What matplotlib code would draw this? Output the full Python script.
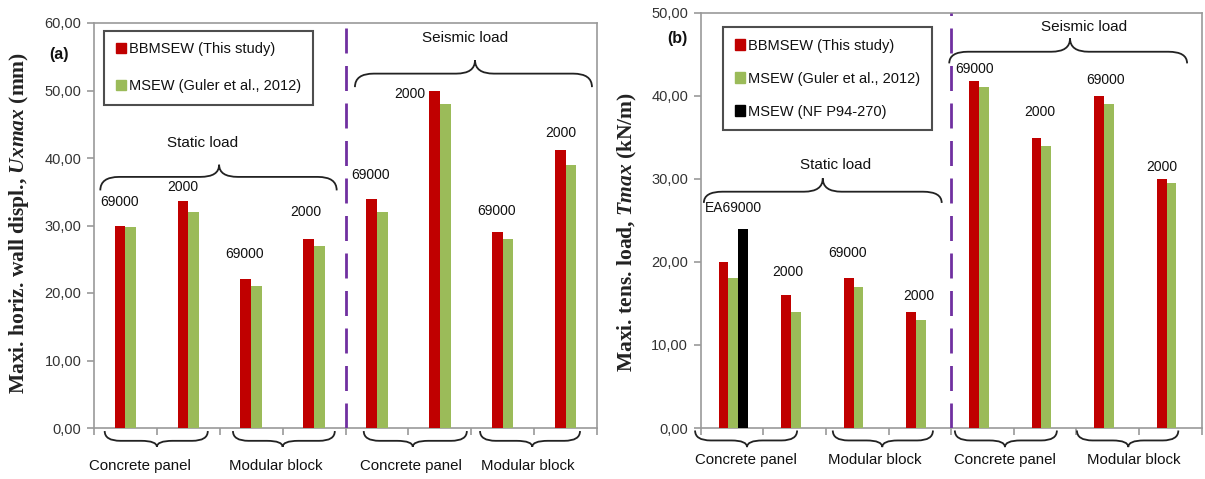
import matplotlib
matplotlib.use("Agg")
import matplotlib.pyplot as plt
from matplotlib.path import Path
from matplotlib.patches import PathPatch, Patch

plt.rcParams['font.family'] = ['Liberation Sans', 'DejaVu Sans']
plt.rcParams['mathtext.fontset'] = 'custom'
plt.rcParams['mathtext.rm'] = 'Liberation Serif:bold'
plt.rcParams['mathtext.it'] = 'Liberation Serif:italic:bold'

# --- data -----------------------------------------------------------------
categories = ["CP static 69000", "CP static 2000", "MB static 69000", "MB static 2000",
              "CP seismic 69000", "CP seismic 2000", "MB seismic 69000", "MB seismic 2000"]

ux_bbmsew = [30.0, 33.7, 22.1, 28.0, 33.9, 50.0, 29.1, 41.2]
ux_msew = [29.8, 32.0, 21.1, 26.9, 32.0, 48.0, 28.0, 39.0]

t_bbmsew = [20.0, 16.0, 18.0, 14.0, 41.8, 34.9, 40.0, 30.0]
t_msew = [18.0, 14.0, 17.0, 13.0, 41.0, 34.0, 39.0, 29.5]
t_nf = [24.0, 0, 0, 0, 0, 0, 0, 0]

stiff_a = ["69000", "2000", "69000", "2000", "69000", "2000", "69000", "2000"]
stiff_b = ["EA69000", "2000", "69000", "2000", "69000", "2000", "69000", "2000"]
groups = ["Concrete panel", "Modular block", "Concrete panel", "Modular block"]
loads = ["Static load", "Seismic load"]
legend_labels = ["BBMSEW (This study)", "MSEW (Guler et al., 2012)", "MSEW (NF P94-270)"]

RED = "#C00000"
GREEN = "#9BBB59"
BLACK = "#000000"
PURPLE = "#7030A0"
AXIS = "#9A9A9A"
TXT = "#111111"

# label placement (x offset from category, y in data units)
lab_a = [(-0.10, 33.5), (-0.08, 35.7), (-0.10, 25.8), (-0.13, 32.0),
         (-0.10, 37.5), (-0.47, 49.5), (-0.10, 32.2), (-0.07, 43.7)]
lab_b = [(0.03, 26.5), (-0.11, 18.8), (-0.15, 21.1), (-0.02, 15.9),
         (-0.13, 43.2), (-0.08, 38.1), (-0.03, 41.9), (-0.13, 31.4)]


def brace(ax, x0, x1, xm, y_end, y_line, y_tip, rx=0.3, rt=0.3):
    verts = [(x0, y_end), (x0, y_line), (x0 + rx, y_line),
             (xm - rt, y_line),
             (xm, y_line), (xm, y_tip),
             (xm, y_line), (xm + rt, y_line),
             (x1 - rx, y_line),
             (x1, y_line), (x1, y_end)]
    codes = [Path.MOVETO, Path.CURVE3, Path.CURVE3, Path.LINETO,
             Path.CURVE3, Path.CURVE3, Path.CURVE3, Path.CURVE3,
             Path.LINETO, Path.CURVE3, Path.CURVE3]
    ax.add_patch(PathPatch(Path(verts, codes), fill=False, edgecolor="#222222",
                           lw=1.3, clip_on=False, zorder=5))


def style_axes(ax, ymax):
    x = range(len(categories))
    ax.set_xlim(-0.5, 7.5)
    ax.set_ylim(0, ymax)
    ax.set_xticks([i - 0.5 for i in range(9)])
    ax.set_xticklabels([])
    ax.set_yticks(range(0, ymax + 1, 10))
    ax.set_yticklabels([f"{v:.2f}".replace(".", ",") for v in range(0, ymax + 1, 10)])
    for s in ax.spines.values():
        s.set_color(AXIS)
        s.set_linewidth(1.2)
    ax.tick_params(axis="both", colors=AXIS, length=5, width=1.2)
    ax.tick_params(axis="y", labelcolor="#333333", labelsize=10.5, pad=4)
    ax.axvline(3.5, color=PURPLE, lw=2, dashes=(9, 4.5), zorder=4)
    return x


def make_legend(ax, handles, labels, x, y, spacing):
    leg = ax.legend(handles, labels, loc="upper left",
                    bbox_to_anchor=(x / 1205, 1 - y / 479),
                    bbox_transform=fig.transFigure, fontsize=10.5, frameon=True,
                    fancybox=False, handlelength=0.7, handleheight=0.7,
                    handletextpad=0.2, labelspacing=spacing, borderpad=0.8,
                    borderaxespad=0)
    leg.get_frame().set_edgecolor("#222222")
    leg.get_frame().set_linewidth(1.5)
    for t in leg.get_texts():
        t.set_color(TXT)


fig = plt.figure(figsize=(12.05, 4.79), dpi=100)

# ---------------- (a) wall displacement ----------------
ax = fig.add_axes([94 / 1205, 1 - 428 / 479, 503 / 1205, 405 / 479])
x = style_axes(ax, 60)
w = 0.17
ax.bar([i - w / 2 for i in x], ux_bbmsew, w, color=RED, zorder=3)
ax.bar([i + w / 2 for i in x], ux_msew, w, color=GREEN, zorder=3)
for i, (dx, yy) in enumerate(lab_a):
    ax.text(i + dx, yy, stiff_a[i], ha="center", va="center", fontsize=10, color=TXT)

brace(ax, -0.40, 3.36, 1.49, 35.2, 37.2, 39.0)
ax.text(1.23, 42.2, loads[0], ha="center", va="center", fontsize=11, color=TXT)
brace(ax, 3.65, 7.42, 5.56, 50.5, 52.5, 54.5)
ax.text(5.40, 57.8, loads[1], ha="center", va="center", fontsize=11, color=TXT)

for (x0, x1, xm), tx, g in zip([(-0.33, 1.31, 0.50), (1.71, 3.33, 2.50),
                                (3.79, 5.43, 4.57), (5.64, 7.23, 6.47)],
                               [0.23, 2.39, 4.54, 6.40], groups):
    brace(ax, x0, x1, xm, -0.45, -1.9, -2.8, rx=0.25, rt=0.25)
    ax.text(tx, -5.7, g, ha="center", va="center", fontsize=10.8, color=TXT, clip_on=False)

make_legend(ax, [Patch(color=RED), Patch(color=GREEN)], legend_labels[:2], 104, 30.7, 1.55)

fig.text(59 / 1205, 1 - 55 / 479, "(a)", ha="center", va="center", fontsize=11.5,
         fontweight="bold", color=TXT)
fig.text(19 / 1205, 1 - 223 / 479, r"Maxi. horiz. wall displ., $Uxmax$ (mm)",
         rotation=90, ha="center", va="center", fontsize=15.5, fontweight="bold",
         family="Liberation Serif", color="#222222")

# ---------------- (b) tensile load ----------------
ax = fig.add_axes([700.7 / 1205, 1 - 428 / 479, 500.8 / 1205, 415.3 / 479])
x = style_axes(ax, 50)
w = 0.155
ax.bar([i - w + 0.02 for i in x], t_bbmsew, w, color=RED, zorder=3)
ax.bar([i + 0.02 for i in x], t_msew, w, color=GREEN, zorder=3)
ax.bar([i + w + 0.02 for i in x], t_nf, w, color=BLACK, zorder=3)
for i, (dx, yy) in enumerate(lab_b):
    ax.text(i + dx, yy, stiff_b[i], ha="center", va="center", fontsize=10, color=TXT)

brace(ax, -0.45, 3.35, 1.45, 27.1, 28.45, 30.06)
ax.text(1.65, 31.7, loads[0], ha="center", va="center", fontsize=11, color=TXT)
brace(ax, 3.47, 7.27, 5.40, 43.9, 45.3, 46.9)
ax.text(5.62, 48.3, loads[1], ha="center", va="center", fontsize=11, color=TXT)

for (x0, x1, xm), tx, g in zip([(-0.59, 1.04, 0.24), (1.61, 3.21, 2.40),
                                (3.56, 5.19, 4.36), (5.51, 7.13, 6.33)],
                               [0.22, 2.28, 4.36, 6.42], groups):
    brace(ax, x0, x1, xm, -0.3, -1.5, -2.3, rx=0.25, rt=0.25)
    ax.text(tx, -3.9, g, ha="center", va="center", fontsize=10.8, color=TXT, clip_on=False)

make_legend(ax, [Patch(color=RED), Patch(color=GREEN), Patch(color=BLACK)],
            legend_labels, 723, 27, 1.3)

fig.text(677 / 1205, 1 - 38 / 479, "(b)", ha="center", va="center", fontsize=11.5,
         fontweight="bold", color=TXT)
fig.text(627 / 1205, 1 - 232 / 479, r"Maxi. tens. load, $Tmax$ (kN/m)",
         rotation=90, ha="center", va="center", fontsize=15.5, fontweight="bold",
         family="Liberation Serif", color="#222222")

fig.savefig("out.png", dpi=100)
